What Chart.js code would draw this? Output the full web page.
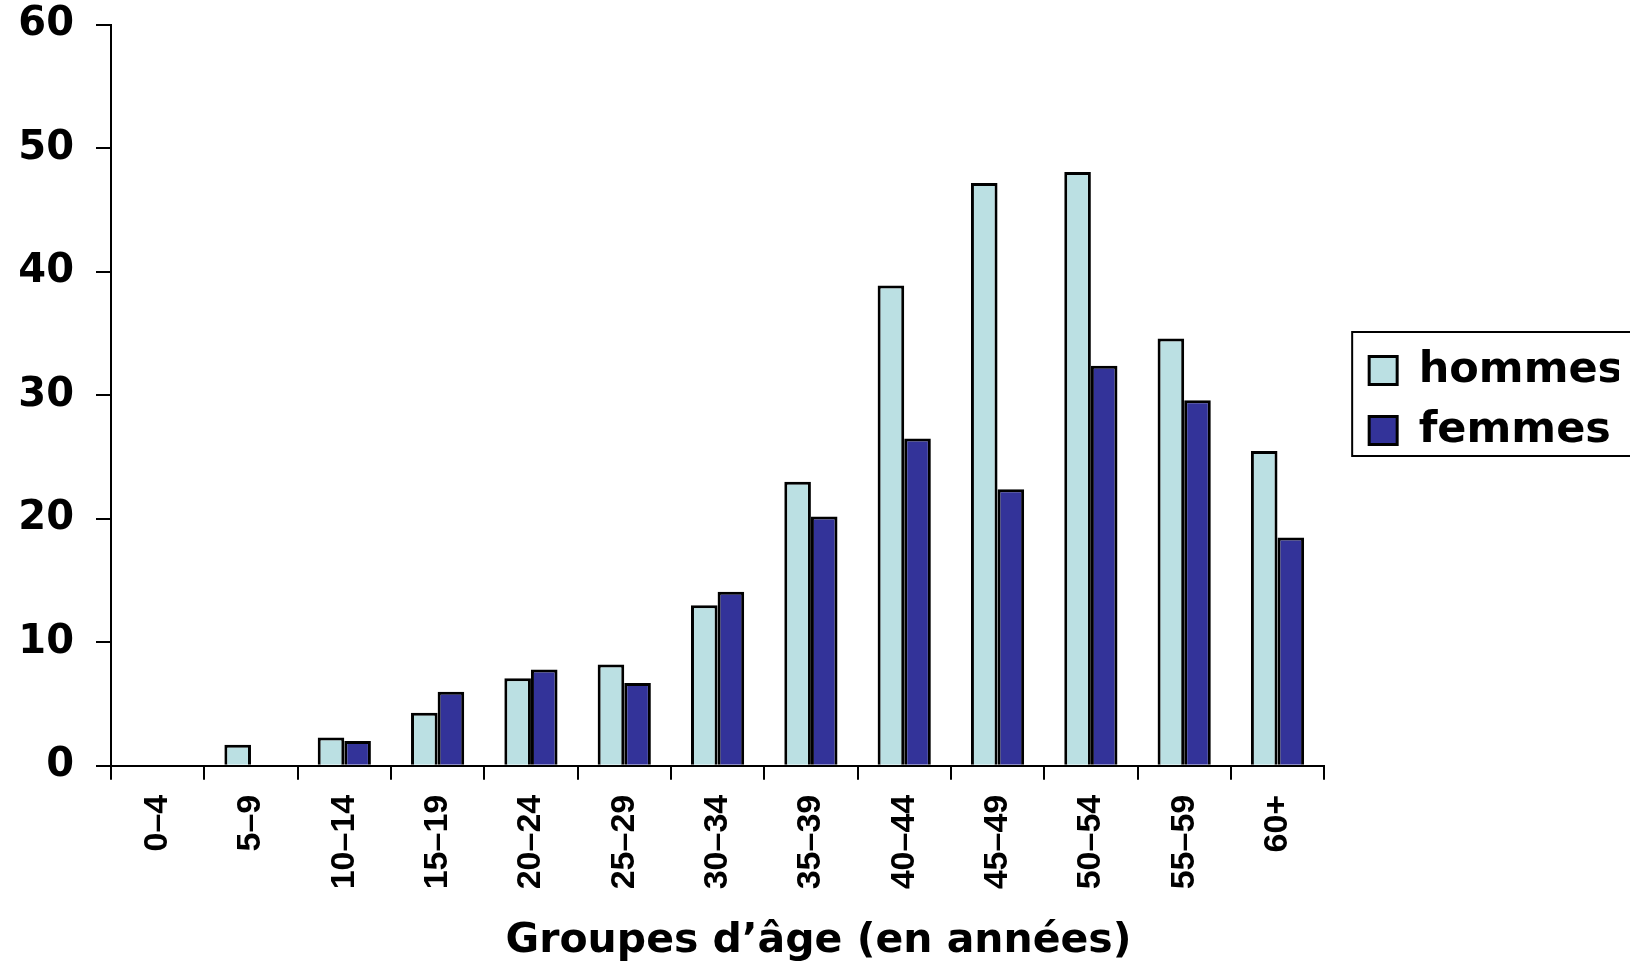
<!DOCTYPE html>
<html>
<head>
<meta charset="utf-8">
<script src="https://cdn.jsdelivr.net/npm/chart.js@4.4.1/dist/chart.umd.min.js"></script>
<style>
  html, body { margin: 0; padding: 0; background: #fff; }
  #wrap { width: 1630px; height: 966px; position: relative; }
</style>
</head>
<body>
<div id="wrap"><canvas id="chart"></canvas></div>
<script>
// age groups and percentages
const ageGroups = ['0–4', '5–9', '10–14', '15–19', '20–24', '25–29', '30–34',
  '35–39', '40–44', '45–49', '50–54', '55–59', '60+'];
const hommes = [0, 1.7, 2.3, 4.3, 7.1, 8.2, 13.0, 23.0, 38.9, 47.2, 48.1, 34.6, 25.5];
const femmes = [0, 0, 2.0, 6.0, 7.8, 6.7, 14.1, 20.2, 26.5, 22.4, 32.4, 29.6, 18.5];
const yTicks = [0, 10, 20, 30, 40, 50, 60];
const xTitle = 'Groupes d’âge (en années)';

// box around the legend, like the original
const legendFrame = {
  id: 'legendFrame',
  afterDraw(chart) {
    const lg = chart.legend;
    if (!lg || !lg.legendHitBoxes.length) return;
    const boxes = lg.legendHitBoxes;
    const top = boxes[0].top - 17;
    const last = boxes[boxes.length - 1];
    const bottom = last.top + last.height + 4;
    const ctx = chart.ctx;
    ctx.save();
    ctx.strokeStyle = '#000';
    ctx.lineWidth = 2;
    ctx.strokeRect(lg.left, top, chart.width - lg.left + 20, bottom - top);
    ctx.restore();
  }
};

new Chart(document.getElementById('chart'), {
  type: 'bar',
  data: {
    labels: ageGroups,
    datasets: [
      {
        label: 'hommes',
        data: hommes,
        backgroundColor: '#bbe0e3',
        borderColor: '#000',
        borderWidth: 3,
        categoryPercentage: 0.57,
        barPercentage: 1
      },
      {
        label: 'femmes',
        data: femmes,
        backgroundColor: '#333399',
        borderColor: '#000',
        borderWidth: 3,
        categoryPercentage: 0.57,
        barPercentage: 1
      }
    ]
  },
  options: {
    responsive: true,
    maintainAspectRatio: false,
    animation: false,
    layout: { padding: { left: 18, right: 11, top: 0, bottom: 0 } },
    plugins: {
      tooltip: { enabled: false },
      legend: {
        position: 'right',
        fullSize: false,
        // empty title, only nudges the items down a little
        title: { display: true, text: ' ', font: { size: 1 }, padding: { top: 0, bottom: 9 } },
        labels: {
          boxWidth: 28,
          boxHeight: 28,
          padding: 17,
          color: '#000',
          font: { family: 'DejaVu Sans', weight: 'bold', size: 43 }
        }
      },
      title: {
        display: true,
        position: 'bottom',
        text: xTitle,
        color: '#000',
        font: { family: 'DejaVu Sans', weight: 'bold', size: 41 },
        padding: { top: 28, bottom: 0 }
      }
    },
    scales: {
      x: {
        afterFit(scale) { scale.height = 123; },
        grid: {
          drawOnChartArea: false,
          drawTicks: true,
          tickLength: 14,
          color: '#000',
          lineWidth: 2
        },
        border: { color: '#000', width: 2 },
        ticks: {
          autoSkip: false,
          minRotation: 90,
          maxRotation: 90,
          padding: 15,
          color: '#000',
          font: { family: 'Liberation Sans', weight: 'bold', size: 34 }
        }
      },
      y: {
        min: 0,
        max: 60,
        afterBuildTicks(scale) {
          scale.ticks = yTicks.map(v => ({ value: v }));
        },
        afterFit(scale) {
          scale.width = 93;
          scale.paddingTop = 25;
          scale.paddingBottom = 0;
        },
        grid: {
          drawOnChartArea: false,
          drawTicks: true,
          tickLength: 15,
          color: '#000',
          lineWidth: 2
        },
        border: { color: '#000', width: 2 },
        ticks: {
          padding: 22,
          color: '#000',
          font: { family: 'DejaVu Sans', weight: 'bold', size: 40 }
        }
      },
      // empty right-hand axis, only keeps the gap between plot and legend
      gap: {
        type: 'linear',
        position: 'right',
        display: true,
        grid: { display: false, drawTicks: false },
        border: { display: false },
        ticks: { display: false },
        afterFit(scale) { scale.width = 28; }
      }
    }
  },
  plugins: [legendFrame]
});
</script>
</body>
</html>
